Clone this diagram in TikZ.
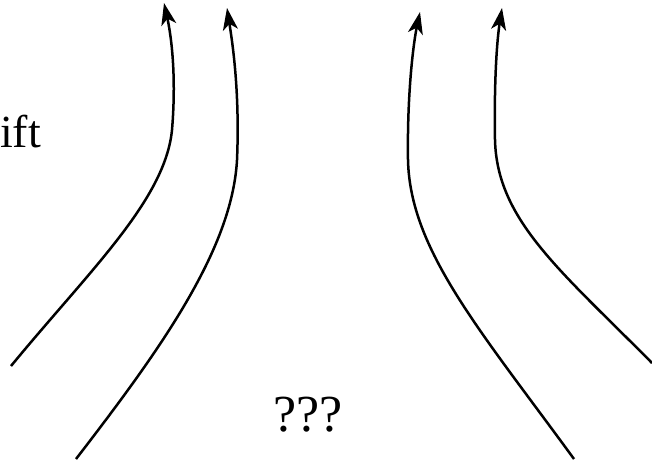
\documentclass[tikz,border=0pt]{standalone}
\usepackage{fontspec}
\setmainfont{Liberation Serif}
\usetikzlibrary{arrows.meta}
\begin{document}
\begin{tikzpicture}[x=1pt,y=-1pt,
  flow/.style={line width=2.5pt,-{Stealth[length=22pt,width=15pt,inset=6pt]}},
  lbl/.style={inner sep=0pt}]
\useasboundingbox (0,0) rectangle (652,459);
\coordinate (a1) at (11,366);
\coordinate (a2) at (164,3);
\coordinate (b1) at (76,459);
\coordinate (b2) at (227,8);
\coordinate (c1) at (574,459);
\coordinate (c2) at (420,12);
\coordinate (d1) at (652,363);
\coordinate (d2) at (502,8);
\draw[flow] (a1) .. controls (90,270) and (165,200) .. (172,130) .. controls (177,70) and (170,30) .. (a2);
\draw[flow] (b1) .. controls (160,350) and (232,250) .. (237,160) .. controls (240,90) and (232,40) .. (b2);
\draw[flow] (c1) .. controls (480,330) and (410,250) .. (408,160) .. controls (407,90) and (414,40) .. (c2);
\draw[flow] (d1) .. controls (560,270) and (497,220) .. (495,140) .. controls (494,80) and (497,40) .. (d2);
\node[lbl,anchor=base west,font=\fontsize{46}{50}\selectfont] (t1) at (0,147) {ift};
\node[lbl,anchor=base,font=\fontsize{52}{56}\selectfont] (t2) at (308,431) {???};
\end{tikzpicture}
\end{document}
